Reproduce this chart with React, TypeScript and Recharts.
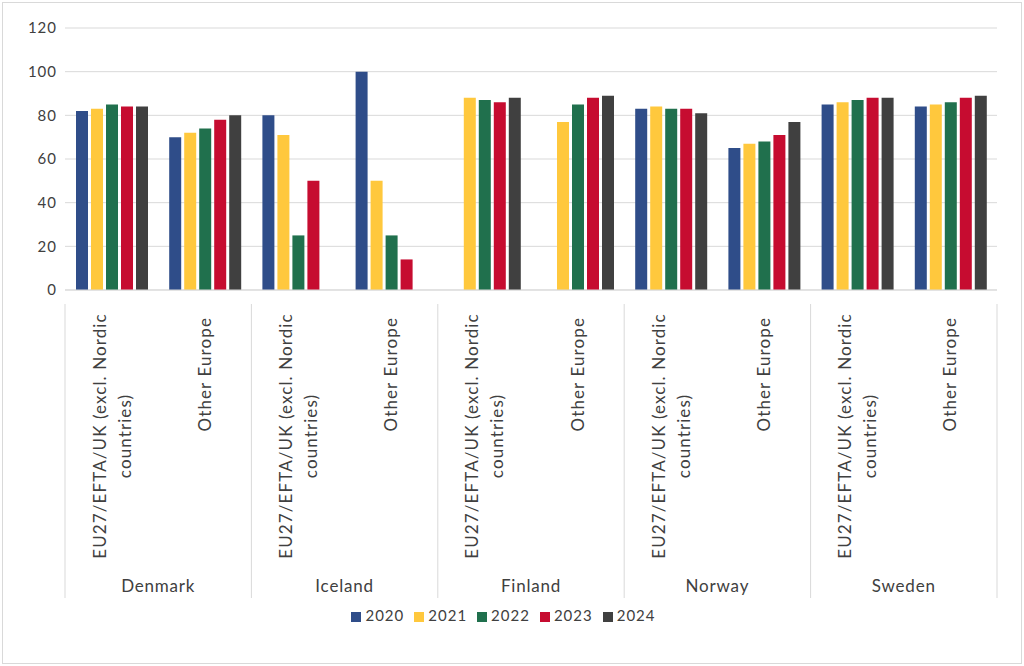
import { BarChart, Bar, XAxis, YAxis, CartesianGrid, Legend } from 'recharts';

const countries = ['Denmark', 'Denmark', 'Iceland', 'Iceland', 'Finland', 'Finland', 'Norway', 'Norway', 'Sweden', 'Sweden'];
const regions = ['EU', 'Other', 'EU', 'Other', 'EU', 'Other', 'EU', 'Other', 'EU', 'Other'];
const v2020 = [82, 70, 80, 100, null, null, 83, 65, 85, 84];
const v2021 = [83, 72, 71, 50, 88, 77, 84, 67, 86, 85];
const v2022 = [85, 74, 25, 25, 87, 85, 83, 68, 87, 86];
const v2023 = [84, 78, 50, 14, 86, 88, 83, 71, 88, 88];
const v2024 = [84, 80, null, null, 88, 89, 81, 77, 88, 89];
const yTicks = [0, 20, 40, 60, 80, 100, 120];

const series = [
  { key: 'y2020', name: '2020', color: '#2F4D89' },
  { key: 'y2021', name: '2021', color: '#FFC83D' },
  { key: 'y2022', name: '2022', color: '#20704D' },
  { key: 'y2023', name: '2023', color: '#C60C30' },
  { key: 'y2024', name: '2024', color: '#404040' },
];

const data = countries.map((c, i) => ({
  id: `${c}-${regions[i]}`,
  country: c,
  region: regions[i],
  y2020: v2020[i],
  y2021: v2021[i],
  y2022: v2022[i],
  y2023: v2023[i],
  y2024: v2024[i],
}));

const FONT = 'Lato, "Open Sans", sans-serif';
const BAND = 932 / 10;

const RegionTick = (props: any) => {
  const { x, index } = props;
  const isEU = regions[index] === 'EU';
  return (
    <g transform={`translate(${x},0)`}>
      <text transform="rotate(-90)" fill="#404040" fontSize={17} letterSpacing={1.1} fontFamily={FONT}>
        {isEU ? (
          <>
            <tspan x={-436} y={-6} textAnchor="middle">EU27/EFTA/UK (excl. Nordic</tspan>
            <tspan x={-436} y={19} textAnchor="middle">countries)</tspan>
          </>
        ) : (
          <tspan x={-317} y={6} textAnchor="end">Other Europe</tspan>
        )}
      </text>
    </g>
  );
};

const CountryTick = (props: any) => {
  const { x, index } = props;
  const top = 304;
  return (
    <g>
      {index % 2 === 0 && (
        <>
          <line x1={x - BAND / 2} x2={x - BAND / 2} y1={top} y2={598} stroke="#d9d9d9" />
          <text x={x + BAND / 2} y={592} textAnchor="middle" fill="#404040" fontSize={17} letterSpacing={0.8} fontFamily={FONT}>
            {countries[index]}
          </text>
        </>
      )}
      {index === countries.length - 1 && (
        <line x1={x + BAND / 2} x2={x + BAND / 2} y1={top} y2={598} stroke="#d9d9d9" />
      )}
    </g>
  );
};

export default function App() {
  return (
    <div style={{ position: 'absolute', left: 0, top: 0, width: 1024, height: 666, background: '#fff' }}>
      <div style={{ position: 'absolute', left: 2, top: 2, width: 1018, height: 660, border: '1px solid #d9d9d9' }} />
      <BarChart
        width={1024}
        height={666}
        data={data}
        margin={{ top: 28, right: 27, left: 20, bottom: 0 }}
        barCategoryGap="11%"
        barGap={3}
      >
        <CartesianGrid vertical={false} stroke="#d9d9d9" />
        <YAxis
          domain={[0, 120]}
          ticks={yTicks}
          width={45}
          axisLine={false}
          tickLine={false}
          tick={{ fill: '#404040', fontSize: 15, fontFamily: FONT, letterSpacing: 1 }}
        />
        <XAxis
          xAxisId={0}
          dataKey="id"
          height={272}
          interval={0}
          tickLine={false}
          axisLine={{ stroke: '#d9d9d9' }}
          tick={<RegionTick />}
        />
        <XAxis
          xAxisId="country"
          dataKey="id"
          height={30}
          interval={0}
          tickLine={false}
          axisLine={false}
          tick={<CountryTick />}
        />
        <Legend
          verticalAlign="bottom"
          height={60}
          iconType="square"
          iconSize={10}
          wrapperStyle={{ fontSize: 15, fontFamily: FONT, color: '#404040', paddingTop: 14, letterSpacing: 1 }}
          formatter={(v: string) => <span style={{ color: '#404040' }}>{v}</span>}
        />
        {series.map((s) => (
          <Bar key={s.key} dataKey={s.key} name={s.name} fill={s.color} barSize={12} isAnimationActive={false} />
        ))}
      </BarChart>
    </div>
  );
}
